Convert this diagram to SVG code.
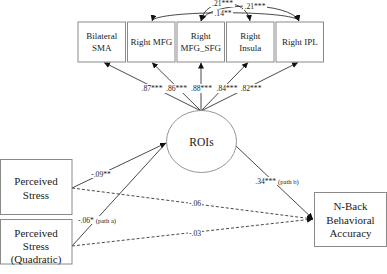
<svg xmlns="http://www.w3.org/2000/svg" width="387" height="274" viewBox="0 0 387 274">
  <style>
    .box { fill: #ffffff; stroke: #8a8a8a; stroke-width: 1; }
    .lat { fill: #ffffff; stroke: #8a8a8a; stroke-width: 0.9; }
    .t { font-family: "Liberation Serif", "Times New Roman", serif; fill: #1a1a1a; text-anchor: middle; }
    .roi { font-size: 9px; }
    .big { font-size: 11px; }
    .lbl { font-size: 7.6px; }
    .sm { font-size: 6.6px; }
    .bg { fill: #ffffff; }
    .line { fill: none; stroke: #1a1a1a; stroke-width: 0.8; }
    .dash { fill: none; stroke: #1a1a1a; stroke-width: 0.8; stroke-dasharray: 3 2; }
  </style>
  <defs>
    <marker id="arr" viewBox="0 0 10 10" refX="10" refY="5" markerWidth="6" markerHeight="6" orient="auto-start-reverse" markerUnits="userSpaceOnUse">
      <path d="M0,0 L10,5 L0,10 Z" fill="#111111"/>
    </marker>
  </defs>

  <rect width="387" height="274" fill="#ffffff"/>

  <!-- connectors -->
  <g id="connectors">
    <!-- residual covariances between indicators -->
    <path class="line" d="M152,21 C155,10 296,10 299,21" marker-start="url(#arr)" marker-end="url(#arr)"/>
    <path class="line" d="M201,21 C205,-3 246,-3 250,21" marker-start="url(#arr)" marker-end="url(#arr)"/>
    <path class="line" d="M201,21 C210,0 290,2 299,21" marker-start="url(#arr)" marker-end="url(#arr)"/>

    <!-- factor loadings -->
    <path class="line" d="M201,111 L104,62.5" marker-end="url(#arr)"/>
    <path class="line" d="M201,111 L152,62.5" marker-end="url(#arr)"/>
    <path class="line" d="M201,111 L201,62.5" marker-end="url(#arr)"/>
    <path class="line" d="M201,111 L248,62.5" marker-end="url(#arr)"/>
    <path class="line" d="M201,111 L298,62.5" marker-end="url(#arr)"/>

    <!-- structural paths -->
    <path class="line" d="M72,188 L166,143" marker-end="url(#arr)"/>
    <path class="line" d="M72,246 L166,143"/>
    <path class="line" d="M236,146 L313,219" marker-end="url(#arr)"/>
    <path class="dash" d="M72,188 L313,219" marker-end="url(#arr)"/>
    <path class="dash" d="M72,246 L313,219" marker-end="url(#arr)"/>

    <!-- coefficient labels -->
    <rect class="bg" x="213" y="9.5" width="20" height="7"/>
    <text class="t lbl" x="223" y="15.5">.14**</text>
    <rect class="bg" x="210" y="0" width="25" height="7"/>
    <text class="t lbl" x="222.5" y="6">.21***</text>
    <rect class="bg" x="243" y="3" width="24" height="7"/>
    <text class="t lbl" x="255" y="9">.21***</text>

    <rect class="bg" x="141" y="84" width="122" height="9"/>
    <text class="t lbl" x="152" y="91">.87***</text>
    <text class="t lbl" x="176.5" y="91">.86***</text>
    <text class="t lbl" x="201.5" y="91">.88***</text>
    <text class="t lbl" x="227" y="91">.84***</text>
    <text class="t lbl" x="251" y="91">.82***</text>

    <rect class="bg" x="90" y="170" width="22" height="8"/>
    <text class="t lbl" x="101" y="177">-.09**</text>
    <rect class="bg" x="76" y="216" width="42" height="8"/>
    <text class="t lbl" x="97" y="223">-.06* <tspan class="sm">(path a)</tspan></text>
    <rect class="bg" x="188" y="199" width="14" height="8"/>
    <text class="t lbl" x="195" y="206">-.06</text>
    <rect class="bg" x="188" y="229" width="14" height="8"/>
    <text class="t lbl" x="195" y="236">-.03</text>
    <rect class="bg" x="253" y="177" width="48" height="8"/>
    <text class="t lbl" x="277" y="184">.34*** <tspan class="sm">(path b)</tspan></text>
  </g>

  <!-- indicator boxes -->
  <g id="bilateral-sma">
    <rect class="box" x="78" y="22" width="47.5" height="40"/>
    <text class="t roi" x="101.8" y="39">Bilateral</text>
    <text class="t roi" x="101.8" y="51">SMA</text>
  </g>
  <g id="right-mfg">
    <rect class="box" x="127.5" y="22" width="47.5" height="40"/>
    <text class="t roi" x="151.3" y="45">Right MFG</text>
  </g>
  <g id="right-mfg-sfg">
    <rect class="box" x="177" y="22" width="47.5" height="40"/>
    <text class="t roi" x="200.8" y="39">Right</text>
    <text class="t roi" x="200.8" y="51">MFG_SFG</text>
  </g>
  <g id="right-insula">
    <rect class="box" x="226.5" y="22" width="47.5" height="40"/>
    <text class="t roi" x="250.3" y="39">Right</text>
    <text class="t roi" x="250.3" y="51">Insula</text>
  </g>
  <g id="right-ipl">
    <rect class="box" x="276" y="22" width="47.5" height="40"/>
    <text class="t roi" x="299.8" y="45">Right  IPL</text>
  </g>

  <!-- latent factor -->
  <g id="rois">
    <ellipse class="lat" cx="201.5" cy="141.5" rx="35" ry="31"/>
    <text class="t" x="201.5" y="145.5" font-size="11.5">ROIs</text>
  </g>

  <!-- predictors -->
  <g id="perceived-stress">
    <rect class="box" x="0.5" y="159.5" width="71.5" height="55"/>
    <text class="t big" x="36" y="185">Perceived</text>
    <text class="t big" x="36" y="198.5">Stress</text>
  </g>
  <g id="perceived-stress-quadratic">
    <rect class="box" x="0.5" y="219.5" width="71.5" height="44.5"/>
    <text class="t big" x="36" y="236.5">Perceived</text>
    <text class="t big" x="36" y="250">Stress</text>
    <text class="t big" x="36" y="263">(Quadratic)</text>
  </g>

  <!-- outcome -->
  <g id="n-back-accuracy">
    <rect class="box" x="314.5" y="192.5" width="72" height="54"/>
    <text class="t big" x="350.5" y="210">N-Back</text>
    <text class="t big" x="350.5" y="223.5">Behavioral</text>
    <text class="t big" x="350.5" y="237">Accuracy</text>
  </g>
</svg>
